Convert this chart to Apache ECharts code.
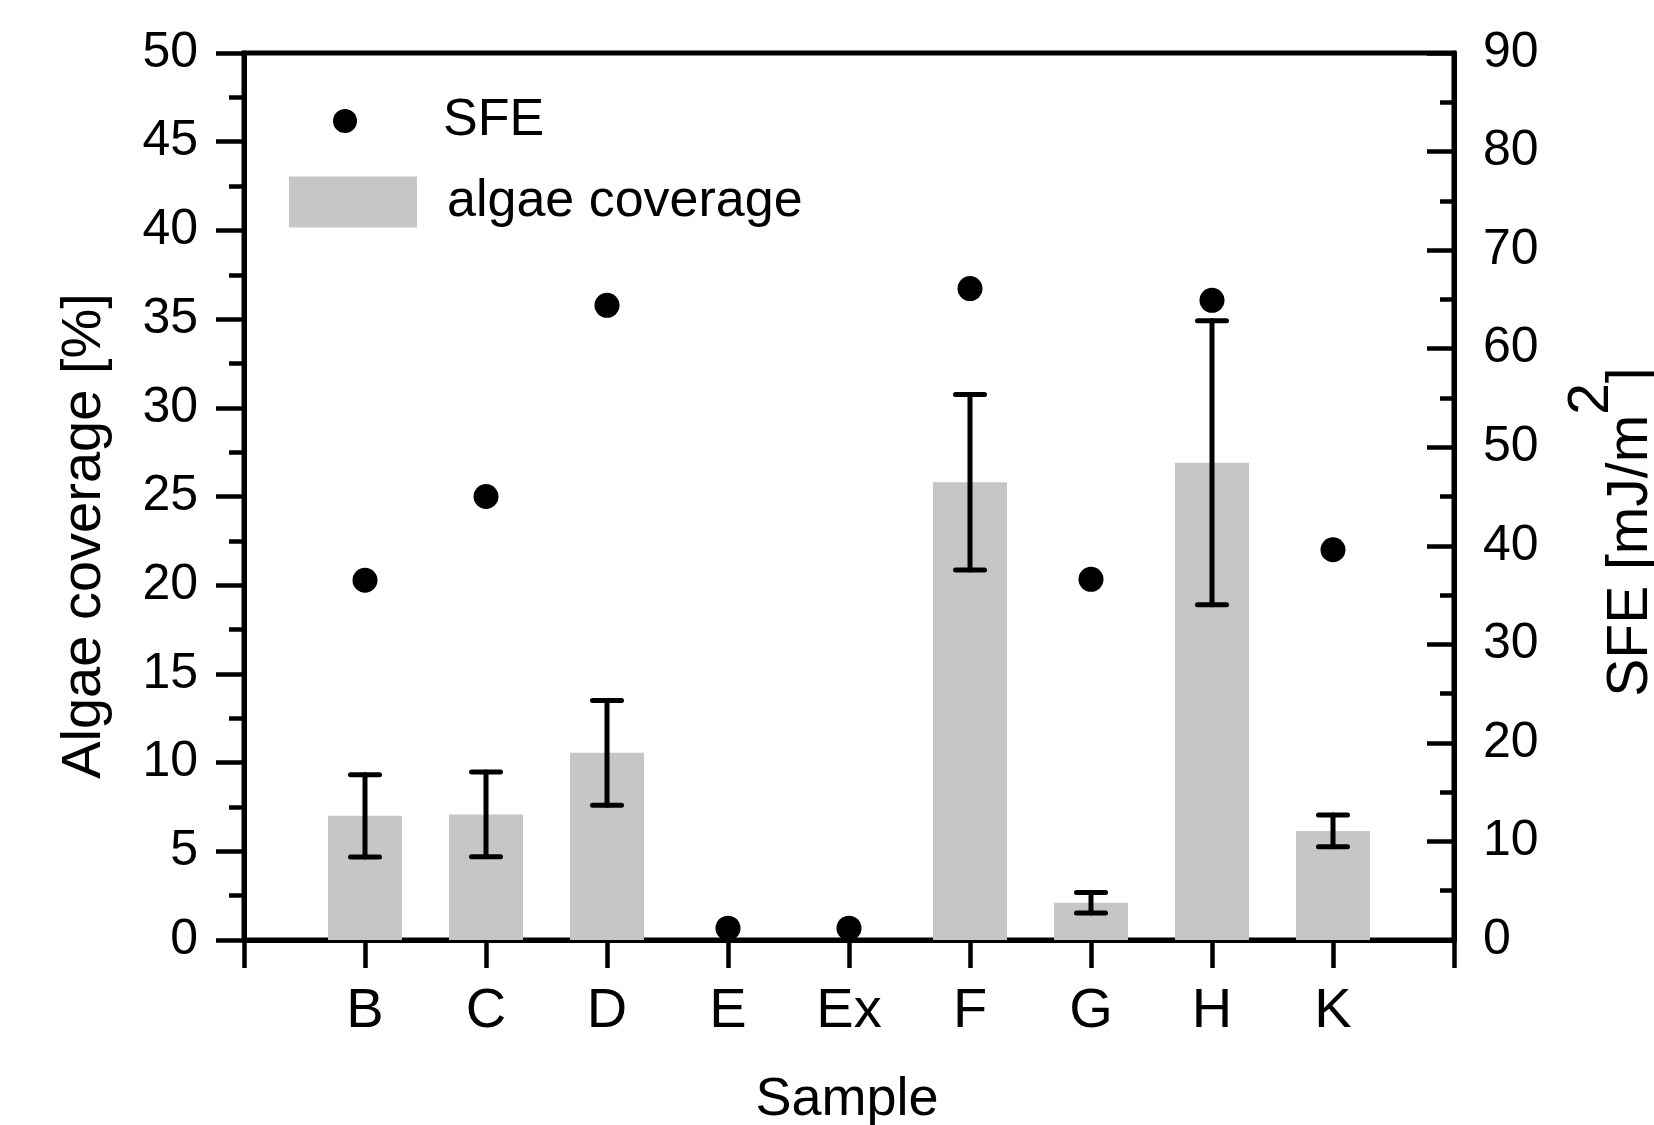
<!DOCTYPE html>
<html>
<head>
<meta charset="utf-8">
<style>
  html, body { margin: 0; padding: 0; background: #fff; }
  #chart { width: 1654px; height: 1125px; }
</style>
<script src="https://cdn.jsdelivr.net/npm/echarts@6/dist/echarts.min.js"></script>
</head>
<body>
<div id="chart"></div>
<script>
// Samples along the x axis
const samples = ['B', 'C', 'D', 'E', 'Ex', 'F', 'G', 'H', 'K'];
// Algae coverage [%] (bars) and its error (half-width of the error bar)
const coverage = [7.0, 7.08, 10.55, 0, 0, 25.8, 2.1, 26.9, 6.15];
const coverageErr = [2.32, 2.39, 2.95, null, null, 4.95, 0.58, 8.0, 0.9];
// Surface free energy [mJ/m2] (dots, right axis)
const sfe = [36.5, 45.0, 64.4, 1.2, 1.2, 66.1, 36.6, 64.9, 39.6];

const FONT = '"Liberation Sans", Arial, Helvetica, sans-serif';

// Empty slots at both ends leave a gap before the first and after the last sample
const axisCats = [''].concat(samples, ['']);
const barData = [null].concat(coverage, [null]);
const sfeData = [null].concat(sfe, [null]);
const errData = [];
samples.forEach(function (s, i) {
  if (coverageErr[i] != null) {
    errData.push([i + 1, coverage[i] - coverageErr[i], coverage[i] + coverageErr[i]]);
  }
});

function renderErrorBar(params, api) {
  const x = api.value(0);
  const lo = api.coord([x, api.value(1)]);
  const hi = api.coord([x, api.value(2)]);
  const half = 14.5;
  const style = { stroke: '#000', lineWidth: 5, lineCap: 'round', fill: null };
  return {
    type: 'group',
    children: [
      { type: 'line', shape: { x1: lo[0], y1: lo[1], x2: hi[0], y2: hi[1] }, style: style },
      { type: 'line', shape: { x1: lo[0] - half, y1: lo[1], x2: lo[0] + half, y2: lo[1] }, style: style },
      { type: 'line', shape: { x1: hi[0] - half, y1: hi[1], x2: hi[0] + half, y2: hi[1] }, style: style }
    ]
  };
}

const chart = echarts.init(document.getElementById('chart'), null, { renderer: 'canvas' });

const blackLine = { color: '#000', width: 5 };
const tickLine = { color: '#000', width: 4.5 };

chart.setOption({
  backgroundColor: '#fff',
  animation: false,
  grid: {
    left: 244, right: 200, top: 53, bottom: 185,
    show: true, borderColor: '#000', borderWidth: 5, backgroundColor: 'transparent'
  },
  legend: [
    {
      data: ['SFE'], left: 333, top: 91, padding: 0, orient: 'vertical',
      itemWidth: 24, itemHeight: 24, icon: 'circle', selectedMode: false,
      itemStyle: { color: '#000', opacity: 1 },
      textStyle: { fontSize: 52, fontFamily: FONT, color: '#000', lineHeight: 52, padding: [8, 0, 0, 81] }
    },
    {
      data: ['algae coverage'], left: 289, top: 173, padding: 0, orient: 'vertical',
      itemWidth: 128, itemHeight: 51, icon: 'rect', selectedMode: false,
      textStyle: { fontSize: 52, fontFamily: FONT, color: '#000', lineHeight: 52, padding: [6, 0, 0, 25] }
    }
  ],
  xAxis: [{
    type: 'category', data: axisCats, boundaryGap: false, position: 'bottom',
    axisLine: { show: true, lineStyle: blackLine },
    axisTick: { show: true, interval: 0, length: 28, lineStyle: tickLine },
    axisLabel: { interval: 0, margin: 44, fontSize: 56, fontFamily: FONT, color: '#000' },
    splitLine: { show: false }
  }],
  yAxis: [
    {
      type: 'value', min: 0, max: 50, interval: 5, position: 'left',
      axisLine: { show: true, lineStyle: blackLine },
      axisTick: { show: true, inside: false, length: 28, lineStyle: tickLine },
      minorTick: { show: true, splitNumber: 2, length: 15, lineStyle: tickLine },
      axisLabel: { margin: 46, fontSize: 50, fontFamily: FONT, color: '#000' },
      splitLine: { show: false }, minorSplitLine: { show: false }
    },
    {
      type: 'value', min: 0, max: 90, interval: 10, position: 'right',
      axisLine: { show: true, lineStyle: blackLine },
      axisTick: { show: true, inside: true, length: 27, lineStyle: tickLine },
      minorTick: { show: true, splitNumber: 2, length: 14, lineStyle: tickLine },
      axisLabel: { margin: 29, fontSize: 50, fontFamily: FONT, color: '#000' },
      splitLine: { show: false }, minorSplitLine: { show: false }
    }
  ],
  series: [
    {
      name: 'algae coverage', type: 'bar', data: barData, yAxisIndex: 0,
      barWidth: 74, itemStyle: { color: '#c6c6c6' }, z: 2
    },
    {
      name: 'coverage error', type: 'custom', data: errData, yAxisIndex: 0,
      renderItem: renderErrorBar, z: 3, silent: true
    },
    {
      name: 'SFE', type: 'scatter', data: sfeData, yAxisIndex: 1,
      symbol: 'circle', symbolSize: 25, itemStyle: { color: '#000', opacity: 1 }, z: 4
    }
  ],
  graphic: [
    {
      type: 'text', x: 85, y: 536, rotation: Math.PI / 2,
      style: {
        text: 'Algae coverage [%]', font: '56px ' + FONT, fill: '#000',
        align: 'center', verticalAlign: 'middle', textAlign: 'center', textVerticalAlign: 'middle'
      }
    },
    {
      type: 'text', x: 1612, y: 532, rotation: Math.PI / 2,
      style: {
        text: '{a|SFE [mJ/m}{s|2}{a|]}', fill: '#000',
        align: 'center', verticalAlign: 'middle', textAlign: 'center', textVerticalAlign: 'middle',
        rich: {
          a: { fontSize: 57, fontFamily: FONT, fill: '#000', lineHeight: 60, verticalAlign: 'bottom' },
          s: { fontSize: 57, fontFamily: FONT, fill: '#000', lineHeight: 96, verticalAlign: 'top' }
        }
      }
    },
    {
      type: 'text', x: 847, y: 1100,
      style: {
        text: 'Sample', font: '54px ' + FONT, fill: '#000',
        align: 'center', verticalAlign: 'middle', textAlign: 'center', textVerticalAlign: 'middle'
      }
    }
  ]
});
</script>
</body>
</html>
